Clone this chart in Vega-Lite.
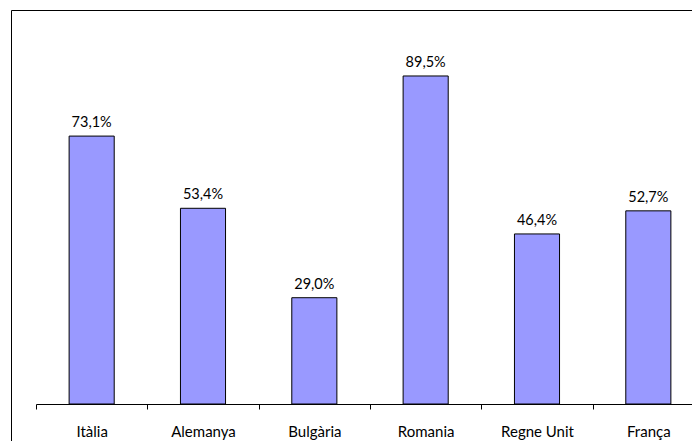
{
  "$schema": "https://vega.github.io/schema/vega-lite/v6.json",
  "autosize": "none",
  "width": 700,
  "height": 450,
  "padding": {"left": 11, "top": 10, "right": -19, "bottom": -19},
  "background": "white",
  "config": {
    "view": {"stroke": "black", "strokeWidth": 1},
    "font": "Lato"
  },
  "data": {
    "values": [
      {"pais": "Itàlia", "valor": 73.1, "etiqueta": "73,1%"},
      {"pais": "Alemanya", "valor": 53.4, "etiqueta": "53,4%"},
      {"pais": "Bulgària", "valor": 29.0, "etiqueta": "29,0%"},
      {"pais": "Romania", "valor": 89.5, "etiqueta": "89,5%"},
      {"pais": "Regne Unit", "valor": 46.4, "etiqueta": "46,4%"},
      {"pais": "França", "valor": 52.7, "etiqueta": "52,7%"}
    ]
  },
  "encoding": {
    "x": {
      "field": "pais",
      "type": "nominal",
      "sort": null,
      "scale": {"range": [25, 693], "paddingInner": 0, "paddingOuter": 0},
      "axis": {
        "title": null,
        "offset": -56,
        "tickBand": "extent",
        "domainColor": "black",
        "tickColor": "black",
        "tickSize": 5,
        "labelAngle": 0,
        "labelFontSize": 15,
        "labelFontWeight": "normal",
        "labelColor": "black",
        "labelPadding": 15,
        "labelFont": "Lato"
      }
    },
    "y": {
      "field": "valor",
      "type": "quantitative",
      "scale": {"domain": [0, 107.5], "range": [394, 0], "nice": false, "zero": true},
      "axis": null
    }
  },
  "layer": [
    {
      "mark": {"type": "bar", "width": {"band": 0.405}, "fill": "#9999FF", "stroke": "black", "strokeWidth": 1}
    },
    {
      "mark": {"type": "text", "baseline": "alphabetic", "dy": -9, "fontSize": 14.5, "color": "black", "font": "Lato"},
      "encoding": {"text": {"field": "etiqueta"}}
    }
  ]
}
